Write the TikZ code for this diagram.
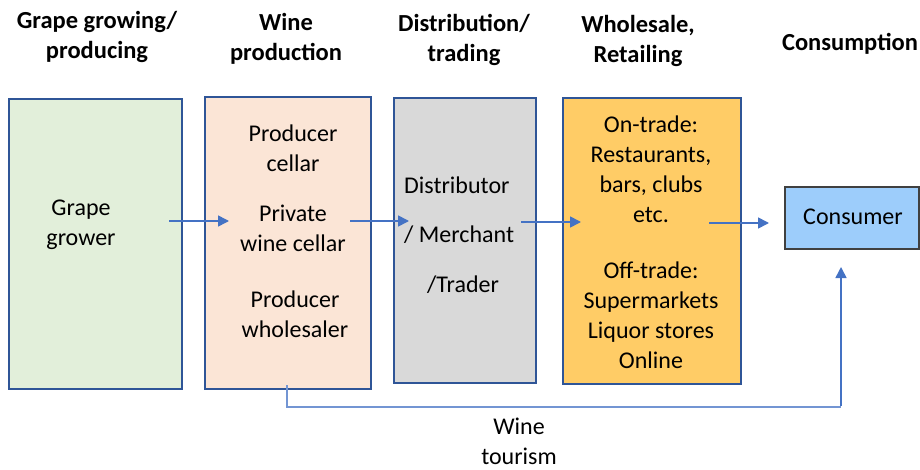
\documentclass[tikz,border=0pt]{standalone}
\usepackage{fontspec}
\setmainfont{Carlito}
\usetikzlibrary{arrows.meta}
\definecolor{edgeblue}{HTML}{2F5597}
\definecolor{flowblue}{HTML}{4472C4}
\definecolor{growfill}{HTML}{E2EFDA}
\definecolor{prodfill}{HTML}{FBE5D6}
\definecolor{tradefill}{HTML}{D9D9D9}
\definecolor{retailfill}{HTML}{FFCC66}
\definecolor{consfill}{HTML}{9DCDFB}
\tikzset{
  stagebox/.style={draw=edgeblue, line width=1.8pt, inner sep=0pt},
  heading/.style={font=\fontsize{24.5}{30}\selectfont\bfseries, align=center},
  boxtext/.style={font=\fontsize{24}{30}\selectfont, align=center, inner sep=0pt},
  flow/.style={draw=flowblue, line width=1.6pt, -{Triangle[length=11pt,width=11pt]}},
}
\begin{document}
\begin{tikzpicture}[x=1pt,y=-1pt]
\useasboundingbox (0,0) rectangle (920,470);

% stage headings
\node[heading] (h1) at (97,37) {Grape growing/\\producing};
\node[heading] (h2) at (286,39) {Wine\\production};
\node[heading] (h3) at (464,40) {Distribution/\\trading};
\node[heading] (h4) at (638,41) {Wholesale,\\Retailing};
\node[heading] (h5) at (850,44) {Consumption};

% stage boxes
\node[stagebox, fill=growfill, minimum width=173pt, minimum height=290pt] (grow) at (95.5,244) {};
\node[stagebox, fill=prodfill, minimum width=166pt, minimum height=292pt] (prod) at (288,243) {};
\node[stagebox, fill=tradefill, minimum width=142pt, minimum height=285pt] (trade) at (465,240.5) {};
\node[stagebox, fill=retailfill, minimum width=178pt, minimum height=286pt] (retail) at (652,241) {};
\node[draw=black!75, line width=1.2pt, fill=consfill, minimum width=134pt, minimum height=62pt, inner sep=0pt] (cons) at (852,218) {};

% box texts
\node[boxtext] (t1) at (81,225) {Grape\\grower};
\node[boxtext] (t2a) at (293,148) {Producer\\cellar};
\node[boxtext] (t2b) at (293,228) {Private\\wine cellar};
\node[boxtext] (t2c) at (295,314) {Producer\\wholesaler};
\node[boxtext, anchor=west] (t3a) at (404,185) {Distributor};
\node[boxtext, anchor=west] (t3b) at (404,235) {/ Merchant};
\node[boxtext, anchor=west] (t3c) at (427,285) {/Trader};
\node[boxtext] (t4a) at (651,169) {On-trade:\\Restaurants,\\bars, clubs\\etc.};
\node[boxtext] (t4b) at (651,315) {Off-trade:\\Supermarkets\\Liquor stores\\Online};
\node[boxtext] (t5) at (853,217) {Consumer};
\node[boxtext] (tour) at (519,441) {Wine\\tourism};

% flow arrows between stages
\coordinate (a1s) at (169,221); \coordinate (a1e) at (229,221);
\coordinate (a2s) at (350,221); \coordinate (a2e) at (409,221);
\coordinate (a3s) at (521,222); \coordinate (a3e) at (581,222);
\coordinate (a4s) at (709,223); \coordinate (a4e) at (769,223);
\draw[flow] (a1s) -- (a1e);
\draw[flow] (a2s) -- (a2e);
\draw[flow] (a3s) -- (a3e);
\draw[flow] (a4s) -- (a4e);

% wine tourism route from the producer straight to the consumer
\coordinate (ts) at (287,385);
\coordinate (tc) at (841,407);
\coordinate (te) at (841,267);
\draw[draw=flowblue!75, line width=1.2pt] (ts) |- (tc);
\draw[flow] ([yshift=0.6pt]tc) -- (te);
\end{tikzpicture}
\end{document}
